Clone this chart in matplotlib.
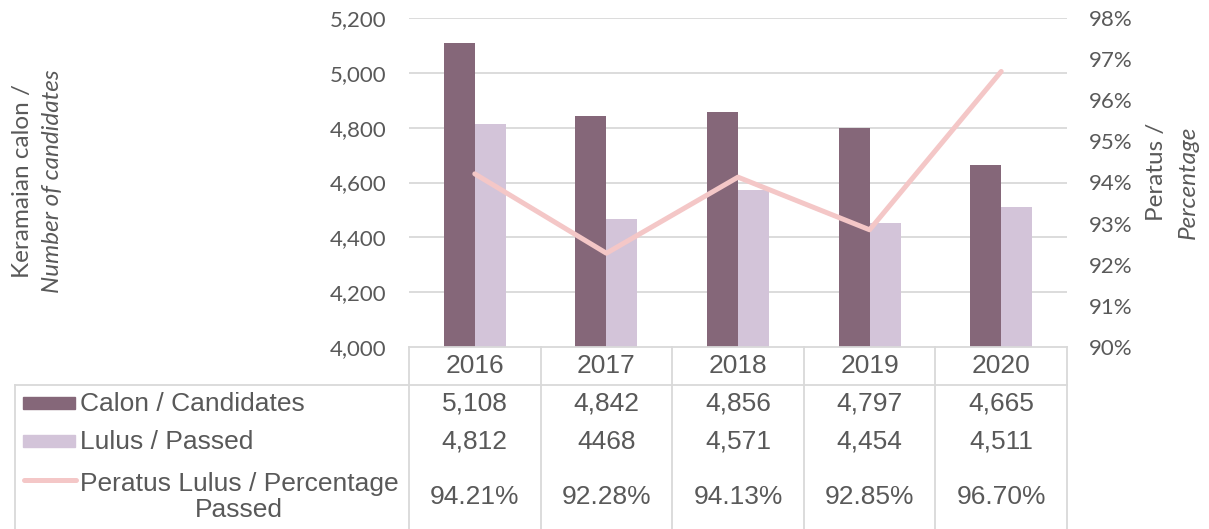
import matplotlib.pyplot as plt
import matplotlib.transforms as mtransforms
from matplotlib.lines import Line2D
from matplotlib.patches import Rectangle

# 数据
years = ["2016", "2017", "2018", "2019", "2020"]
candidates = [5108, 4842, 4856, 4797, 4665]
passed = [4812, 4468, 4571, 4454, 4511]
pct_passed = [94.21, 92.28, 94.13, 92.85, 96.70]
candidates_txt = ["5,108", "4,842", "4,856", "4,797", "4,665"]
passed_txt = ["4,812", "4468", "4,571", "4,454", "4,511"]
pct_txt = ["94.21%", "92.28%", "94.13%", "92.85%", "96.70%"]
series_names = ["Calon / Candidates", "Lulus / Passed", "Peratus Lulus / Percentage\nPassed"]

DARK = "#856779"
LIGHT = "#d3c4d9"
PINK = "#f4c7c7"
TXT = "#595959"
GRID = "#d9d9d9"

W, H = 1209, 529
fig = plt.figure(figsize=(W / 100, H / 100), dpi=100)


def fx(px):
    return px / W


def fy(py):
    return 1 - py / H


# 图区（像素位置换算）
ax = fig.add_axes([fx(409), fy(347), fx(1067) - fx(409), fy(18) - fy(347)])
ax2 = ax.twinx()

x = list(range(len(years)))
bw = 0.236
ax.bar([i - bw / 2 for i in x], candidates, width=bw, color=DARK, zorder=3)
ax.bar([i + bw / 2 for i in x], passed, width=bw, color=LIGHT, zorder=3)
ax.set_xlim(-0.5, len(years) - 0.5)
ax.set_ylim(4000, 5200)
ax.set_yticks(range(4000, 5201, 200))
ax.set_yticklabels([f"{v:,}" for v in range(4000, 5201, 200)])
ax.set_xticks([])
for v in range(4200, 5201, 200):
    ax.axhline(v, color=GRID, lw=1.3, zorder=1)

ax2.plot(x, pct_passed, color=PINK, lw=3.6, solid_capstyle="round", zorder=4)
ax2.set_ylim(90, 98)
ax2.set_yticks(range(90, 99))
ax2.set_yticklabels([f"{v}%" for v in range(90, 99)])

LBL_FONT = "Lato"
for a in (ax, ax2):
    for s in a.spines.values():
        s.set_visible(False)
    a.tick_params(length=0, labelsize=16, labelcolor=TXT)
    for lbl in a.get_yticklabels():
        lbl.set_family(LBL_FONT)
ax.tick_params(axis="y", pad=16)
ax2.tick_params(axis="y", pad=16)

# 轴标题
fig.text(fx(22), fy(181), "Keramaian calon /", rotation=90, ha="center", va="center",
         fontsize=17.5, color=TXT, family=LBL_FONT)
fig.text(fx(52), fy(181), "Number of candidates", rotation=90, ha="center", va="center",
         fontsize=17.5, color=TXT, family=LBL_FONT, style="italic")
fig.text(fx(1156), fy(172), "Peratus /", rotation=90, ha="center", va="center",
         fontsize=17.5, color=TXT, family=LBL_FONT)
fig.text(fx(1188), fy(182), "Percentage", rotation=90, ha="center", va="center",
         fontsize=17.5, color=TXT, family=LBL_FONT, style="italic")

# 数据表
tr = mtransforms.blended_transform_factory(ax.transData, fig.transFigure)
lw = 1.3


def hline(x0, x1, y):
    fig.add_artist(Line2D([fx(x0), fx(x1)], [fy(y), fy(y)], color=GRID, lw=lw))


def vline(xp, y0, y1):
    fig.add_artist(Line2D([fx(xp), fx(xp)], [fy(y0), fy(y1)], color=GRID, lw=lw))


hline(409, 1067, 347)
hline(15, 1067, 385)
vline(15, 385, 529)
for i in range(len(years) + 1):
    xb = i - 0.5
    fig.add_artist(Line2D([xb, xb], [fy(347), fy(529)], transform=tr, color=GRID, lw=lw))

fs = 19
fam = "Liberation Sans"
for i, yr in enumerate(years):
    fig.text(i, fy(366), yr, transform=tr, ha="center", va="center", fontsize=fs, color=TXT, family=fam)
    fig.text(i, fy(404), candidates_txt[i], transform=tr, ha="center", va="center", fontsize=fs, color=TXT, family=fam)
    fig.text(i, fy(442), passed_txt[i], transform=tr, ha="center", va="center", fontsize=fs, color=TXT, family=fam)
    fig.text(i, fy(497), pct_txt[i], transform=tr, ha="center", va="center", fontsize=fs, color=TXT, family=fam)

# 图例列
fig.add_artist(Rectangle((fx(23), fy(409)), fx(75) - fx(23), fy(397) - fy(409), color=DARK))
fig.add_artist(Rectangle((fx(23), fy(447)), fx(75) - fx(23), fy(435) - fy(447), color=LIGHT))
fig.add_artist(Line2D([fx(24), fx(76)], [fy(480), fy(480)], color=PINK, lw=3.6, solid_capstyle="round"))
fig.text(fx(80), fy(404), series_names[0], ha="left", va="center", fontsize=fs, color=TXT, family=fam)
fig.text(fx(80), fy(442), series_names[1], ha="left", va="center", fontsize=fs, color=TXT, family=fam)
fig.text(fx(80), fy(497), series_names[2], ha="left", va="center", fontsize=fs, color=TXT, family=fam,
         multialignment="center", linespacing=1.15)

fig.savefig("out.png", dpi=100)
